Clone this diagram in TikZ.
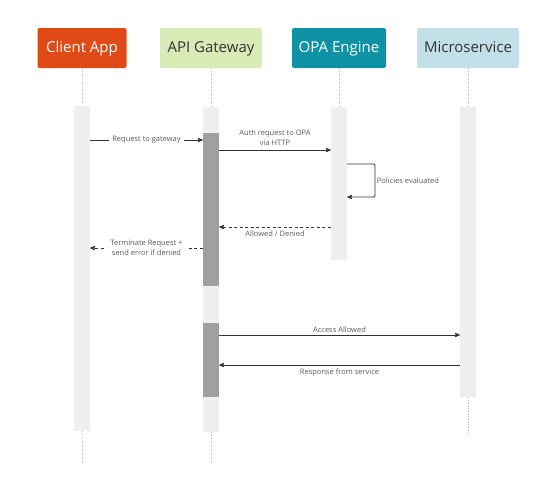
\documentclass[tikz,border=0pt]{standalone}
\usepackage{fontspec}
\setmainfont{Open Sans}
\usetikzlibrary{arrows}
\usetikzlibrary{calc}
\usetikzlibrary{positioning}

\definecolor{clientred}{HTML}{E04A17}
\definecolor{gwgreen}{HTML}{D8EAB5}
\definecolor{opateal}{HTML}{0E93A6}
\definecolor{microblue}{HTML}{C3E0E8}
\definecolor{barlight}{HTML}{EFEFEF}
\definecolor{bardark}{HTML}{A0A0A0}
\definecolor{lifegrey}{HTML}{B8B8B8}
\definecolor{msggrey}{HTML}{333333}
\definecolor{labgrey}{HTML}{5A5A5A}

\begin{document}
\begin{tikzpicture}[x=1pt,y=-1pt,
  head/.style={rectangle,rounded corners=2pt,minimum height=40pt,inner sep=0pt,text height=11pt,text depth=3pt,font=\fontsize{15}{18}\selectfont},
  bar/.style={rectangle,fill=barlight,minimum width=16pt,inner sep=0pt,anchor=north},
  act/.style={rectangle,fill=bardark,minimum width=16pt,inner sep=0pt,anchor=north},
  life/.style={draw=lifegrey,dotted,line width=0.7pt},
  msg/.style={draw=msggrey,line width=0.8pt,->,>=stealth'},
  reply/.style={msg,dash pattern=on 3pt off 2.5pt},
  lab/.style={font=\fontsize{7.5}{10}\selectfont,text=labgrey,align=center,inner sep=1.5pt}]

  \useasboundingbox (0,0) rectangle (547,480);

  % participants
  \node [head,fill=clientred,text=white,minimum width=89pt] (client) at (82,48) {Client App};
  \node [head,fill=gwgreen,text=msggrey,minimum width=102pt] (gateway) at (211,48) {API Gateway};
  \node [head,fill=opateal,text=white,minimum width=94pt] (opa) at (339,48) {OPA Engine};
  \node [head,fill=microblue,text=msggrey,minimum width=102pt] (micro) at (468,48) {Microservice};

  % lifeline bars
  \node [bar,minimum height=325pt] (clientbar) at (82,106) {};
  \node [bar,minimum height=325pt] (gwbar) at (211,107) {};
  \node [bar,minimum height=153pt] (opabar) at (339,107) {};
  \node [bar,minimum height=290pt] (microbar) at (468,107) {};

  \node [act,minimum height=153pt] (gwact_1) at (211,133) {};
  \node [act,minimum height=74pt] (gwact_2) at (211,323) {};

  \coordinate (clientend) at (82,463);
  \coordinate (gwend) at (211,463);
  \coordinate (microend) at (468,433);

  \path [life]
    (client) edge (clientbar)
    (gateway) edge (gwbar)
    (opa) edge (opabar)
    (micro) edge (microbar)
    (clientbar) edge (clientend)
    (gwbar) edge (gwend)
    (microbar) edge (microend);

  % messages
  \draw [msg] (clientbar.east |- 0,140) -- node [lab,fill=white,inner xsep=3pt] {Request to gateway} (gwact_1.west |- 0,140);
  \draw [msg] (gwact_1.east |- 0,150) -- node [lab,above=3pt] {Auth request to OPA\\via HTTP} (opabar.west |- 0,150);

  \draw [msg,rounded corners=1pt]
    (opabar.east |- 0,164) -- (375,164) -- node [lab,right] {Policies evaluated} (375,197) -- (opabar.east |- 0,197);

  \draw [reply] (opabar.west |- 0,227) -- node [lab,below=2pt] {Allowed / Denied} (gwact_1.east |- 0,227);
  \draw [reply] (gwact_1.west |- 0,248) -- node [lab,fill=white,inner xsep=4pt] {Terminate Request +\\send error if denied} (clientbar.east |- 0,248);

  \draw [msg] (gwact_2.east |- 0,335) -- node [lab,above=1pt] {Access Allowed} (microbar.west |- 0,335);
  \draw [msg] (microbar.west |- 0,365) -- node [lab,below=2pt] {Response from service} (gwact_2.east |- 0,365);

\end{tikzpicture}
\end{document}
